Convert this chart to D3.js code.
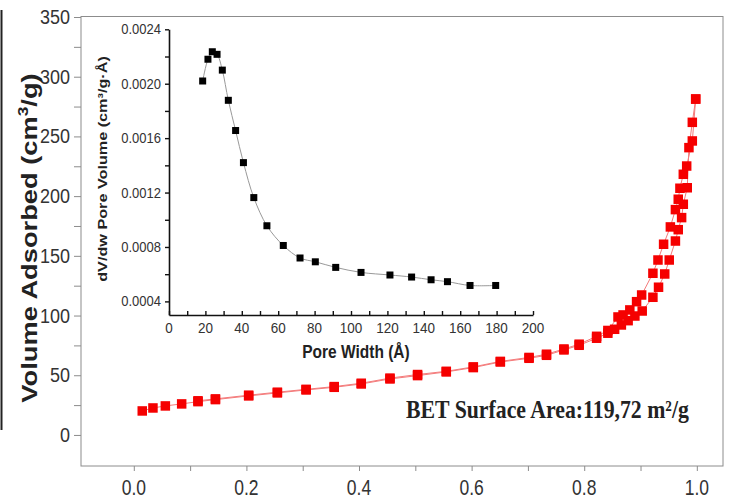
<!DOCTYPE html>
<html><head><meta charset="utf-8">
<script src="https://cdn.jsdelivr.net/npm/d3@7"></script>
<style>
html,body{margin:0;padding:0;background:#fff;}
svg{display:block;}
</style></head>
<body>
<svg id="c" width="731" height="498"></svg>
<script>
// ---- main isotherm data (relative pressure P/P0, volume adsorbed cm3/g) ----
const adsP = [0.015,0.034,0.056,0.085,0.114,0.145,0.204,0.255,0.306,0.356,0.404,0.455,0.504,0.555,0.603,0.651,0.702,0.733,0.764,0.791,0.822,0.842,0.854,0.866,0.878,0.890,0.903,0.922,0.932,0.943,0.951,0.962,0.967,0.973,0.976,0.983,0.986,0.992,0.998];
const adsV = [20.1,22.6,24.3,26.0,27.9,29.6,32.7,35.2,37.7,39.9,42.7,46.9,49.7,52.8,56.4,61.1,64.2,66.7,71.2,75.1,81.0,85.2,88.5,92.1,95.7,99.6,103.8,115.3,123.7,134.8,146.5,162.4,171.9,182.0,193.2,207.0,240.6,261.8,281.3];
const desP = [0.998,0.992,0.982,0.976,0.970,0.967,0.962,0.953,0.941,0.931,0.922,0.902,0.893,0.881,0.869,0.860,0.842,0.822,0.791,0.764,0.733,0.702,0.651,0.603,0.555,0.504,0.455,0.404,0.356,0.306,0.255,0.204,0.145,0.114];
const desV = [281.3,246.2,225.2,218.3,206.6,197.4,188.7,174.2,159.7,146.5,135.4,117.2,111.6,104.7,100.5,98.8,87.5,82.6,76.0,72.0,67.6,64.9,61.6,57.0,53.3,50.6,47.6,43.3,40.5,38.2,35.8,33.3,30.2,28.6];
const xTicks = [0.0,0.2,0.4,0.6,0.8,1.0];
const yTicks = [0,50,100,150,200,250,300,350];

// ---- inset pore size distribution ----
const poreW = [18.5,21.4,23.8,26.4,29.3,32.6,36.6,40.9,46.6,53.8,62.8,72.0,80.4,91.6,105.5,121.4,133.3,144.0,153.0,165.4,179.5];
const poreV = [0.00202,0.00218,0.002235,0.002216,0.00210,0.001878,0.001656,0.00142,0.001163,0.000956,0.000811,0.000719,0.000691,0.00065,0.000613,0.000594,0.000579,0.000559,0.000545,0.000517,0.000517];
const insetXTicks = [0,20,40,60,80,100,120,140,160,180,200];
const insetYTicks = [0.0004,0.0008,0.0012,0.0016,0.0020,0.0024];

const svg = d3.select("#c");
const axisCol = "#8c8c8c";
const sans = "Liberation Sans, Arial, sans-serif";

// left border fragment
svg.append("line").attr("x1",1.5).attr("x2",1.5).attr("y1",10).attr("y2",430)
  .attr("stroke","#222").attr("stroke-width",2);

// main scales
const x = d3.scaleLinear().domain([-0.0938,1.0465]).range([81,723]);
const y = d3.scaleLinear().domain([-26,350]).range([466,17]);

// frame
svg.append("rect").attr("x",81).attr("y",16.5).attr("width",642).attr("height",449.5)
  .attr("fill","none").attr("stroke",axisCol).attr("stroke-width",1);

// x axis
const gx = svg.append("g").attr("transform","translate(0,466)")
  .call(d3.axisBottom(x).tickValues(d3.range(0,1.01,0.1)).tickSize(5).tickFormat(""));
gx.select(".domain").remove();
gx.selectAll("line").attr("stroke",axisCol);
svg.append("g").selectAll("text").data(xTicks).join("text")
  .attr("transform",d=>`translate(${x(d)},495) scale(1,1.22)`).attr("text-anchor","middle")
  .attr("font-family",sans).attr("font-size",17.5)
  .attr("fill","#333").text(d=>d3.format(".1f")(d));

// y axis
const gy = svg.append("g").attr("transform","translate(81,0)")
  .call(d3.axisLeft(y).tickValues(d3.range(0,351,25)).tickSize(7).tickFormat(""));
gy.select(".domain").remove();
gy.selectAll("line").attr("stroke",axisCol);
svg.append("g").selectAll("text").data(yTicks).join("text")
  .attr("transform",d=>`translate(70,${y(d)+7}) scale(1,1.08)`).attr("text-anchor","end")
  .attr("font-family",sans).attr("font-size",18)
  .attr("fill","#333").text(d=>d);

// y title
const yt = svg.append("text").attr("transform","translate(37,238) scale(1,1.24) rotate(-90)")
  .attr("text-anchor","middle").attr("font-family",sans)
  .attr("font-weight","bold").attr("font-size",22).attr("fill","#222");
yt.append("tspan").text("Volume Adsorbed (cm");
yt.append("tspan").attr("dy",-9).attr("font-size",14).text("3");
yt.append("tspan").attr("dy",9).text("/g)");

// isotherm lines
const line = d3.line().x(d=>x(d[0])).y(d=>y(d[1]));
const ads = adsP.map((p,i)=>[p,adsV[i]]);
const des = desP.map((p,i)=>[p,desV[i]]);
[ads,des].forEach(s=>{
  svg.append("path").datum(s).attr("d",line).attr("fill","none")
    .attr("stroke","#f47a7a").attr("stroke-width",1);
});
const sq = 9.5;
[des,ads].forEach(s=>{
  svg.append("g").selectAll("rect").data(s).join("rect")
    .attr("x",d=>x(d[0])-sq/2).attr("y",d=>y(d[1])-sq/2)
    .attr("width",sq).attr("height",sq).attr("fill","#f50000");
});

// BET label
svg.append("text").attr("transform","translate(406,418) scale(1,1.12)")
  .attr("font-family","Liberation Serif, Times New Roman, serif").attr("font-weight","bold")
  .attr("font-size",21.8).attr("fill","#222").text("BET Surface Area:119,72 m²/g");

// ---- inset ----
const ix = d3.scaleLinear().domain([0,200]).range([169,533]);
const iy = d3.scaleLinear().domain([0.0003,0.0024]).range([315,29.3]);

const igx = svg.append("g").attr("transform","translate(0,315)")
  .call(d3.axisBottom(ix).tickValues(d3.range(0,201,10)).tickSize(-4).tickSizeOuter(0).tickFormat(""));
igx.select(".domain").attr("stroke","#111").attr("stroke-width",1.6);
igx.selectAll(".tick line").attr("stroke","#111").attr("stroke-width",1.4);
svg.append("g").selectAll("text").data(insetXTicks).join("text")
  .attr("transform",d=>`translate(${ix(d)},333) scale(1,1.1)`).attr("text-anchor","middle")
  .attr("font-family",sans).attr("font-size",13.5)
  .attr("fill","#333").text(d=>d);

const igy = svg.append("g").attr("transform","translate(169,0)")
  .call(d3.axisLeft(iy).tickValues(d3.range(0.0004,0.00241,0.0002)).tickSize(4).tickSizeOuter(0).tickFormat(""));
igy.select(".domain").attr("stroke","#111").attr("stroke-width",1.6);
igy.selectAll(".tick line").attr("stroke","#111").attr("stroke-width",1.4);
svg.append("g").selectAll("text").data(insetYTicks).join("text")
  .attr("transform",d=>`translate(161,${iy(d)+5}) scale(1,1.1)`).attr("text-anchor","end")
  .attr("font-family",sans).attr("font-size",13)
  .attr("fill","#333").text(d=>d3.format(".4f")(d));

svg.append("text").attr("transform","translate(356,358) scale(1,1.2)").attr("text-anchor","middle")
  .attr("font-family",sans).attr("font-weight","bold")
  .attr("font-size",15.5).attr("fill","#222").text("Pore Width (Å)");
svg.append("text").attr("transform","translate(107,169) scale(1,1.2) rotate(-90)").attr("text-anchor","middle")
  .attr("font-family",sans).attr("font-weight","bold")
  .attr("font-size",13.5).attr("fill","#222").text("dV/dw Pore Volume (cm³/g·Å)");

const iline = d3.line().x(d=>ix(d[0])).y(d=>iy(d[1])).curve(d3.curveCatmullRom);
const ipts = poreW.map((w,i)=>[w,poreV[i]]);
svg.append("path").datum(ipts).attr("d",iline).attr("fill","none")
  .attr("stroke","#999").attr("stroke-width",1);
const isq = 7;
svg.append("g").selectAll("rect").data(ipts).join("rect")
  .attr("x",d=>ix(d[0])-isq/2).attr("y",d=>iy(d[1])-isq/2)
  .attr("width",isq).attr("height",isq).attr("fill","#000");
</script>
</body></html>
